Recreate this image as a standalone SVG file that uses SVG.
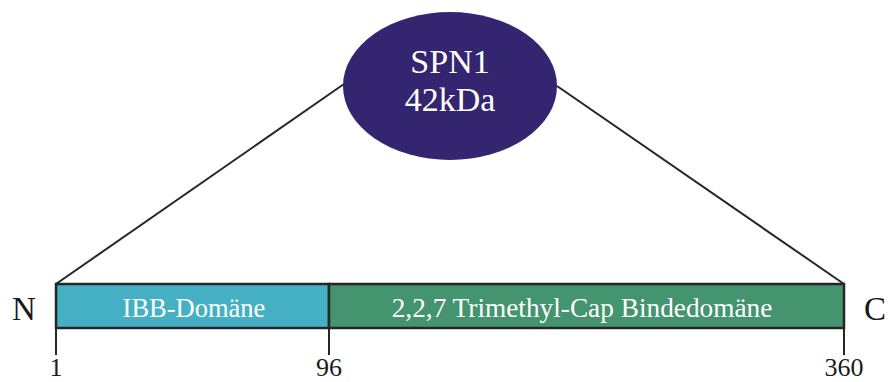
<svg xmlns="http://www.w3.org/2000/svg" width="888" height="382" viewBox="0 0 888 382">
  <style>
    .line { stroke: #262626; stroke-width: 2; fill: none; }
    .box { stroke: #262626; stroke-width: 2.5; }
    .lbl { font-family: "Liberation Serif", "Times New Roman", serif; fill: #1a1a1a; }
    .wht { font-family: "Liberation Serif", "Times New Roman", serif; fill: #ffffff; }
  </style>
  <rect width="888" height="382" fill="#ffffff"/>

  <!-- connectors from the protein bubble to the domain bar -->
  <g id="connectors">
    <line class="line" x1="56" y1="284" x2="344" y2="84"/>
    <line class="line" x1="844" y1="284" x2="557" y2="86"/>
    <line class="line" x1="56" y1="328" x2="56" y2="355"/>
    <line class="line" x1="329" y1="328" x2="329" y2="355"/>
    <line class="line" x1="844" y1="328" x2="844" y2="355"/>
  </g>

  <g id="spn1">
    <ellipse cx="450" cy="86" rx="107" ry="74" fill="#332570"/>
    <text class="wht" x="450" y="73" font-size="34" text-anchor="middle">SPN1</text>
    <text class="wht" x="450" y="111" font-size="34" text-anchor="middle">42kDa</text>
  </g>

  <g id="ibb-domain">
    <rect class="box" x="56" y="284" width="273" height="44" fill="#45b0c3"/>
    <text class="wht" x="194" y="317" font-size="26.5" text-anchor="middle">IBB-Domäne</text>
  </g>

  <g id="cap-binding-domain">
    <rect class="box" x="329" y="284" width="515" height="44" fill="#43946f"/>
    <text class="wht" x="582" y="317" font-size="27.3" text-anchor="middle">2,2,7 Trimethyl-Cap Bindedomäne</text>
  </g>

  <g id="termini">
    <text class="lbl" x="24" y="320" font-size="33" text-anchor="middle">N</text>
    <text class="lbl" x="875" y="320" font-size="33" text-anchor="middle">C</text>
  </g>

  <g id="positions">
    <text class="lbl" x="56" y="376" font-size="26" text-anchor="middle">1</text>
    <text class="lbl" x="329" y="376" font-size="26" text-anchor="middle">96</text>
    <text class="lbl" x="844" y="376" font-size="26" text-anchor="middle">360</text>
  </g>
</svg>
